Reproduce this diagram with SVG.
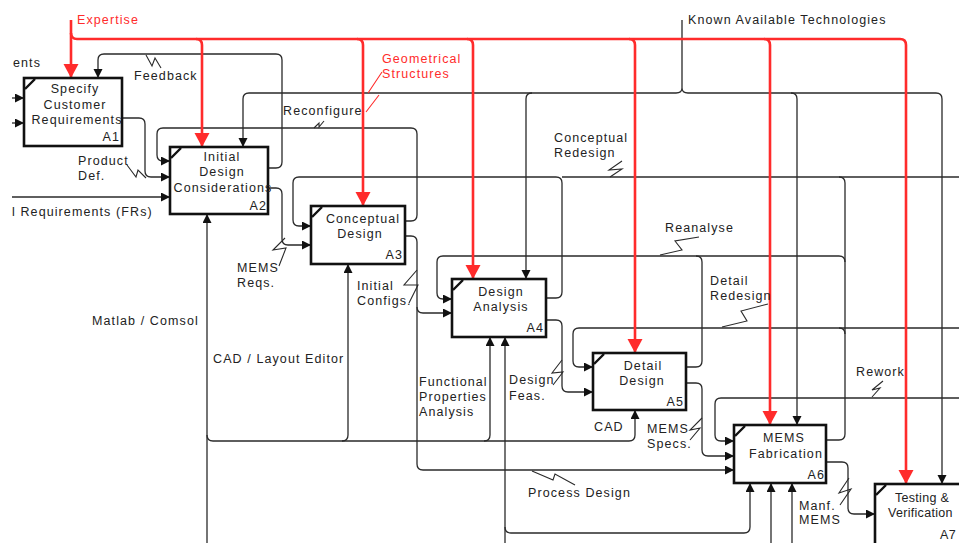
<svg xmlns="http://www.w3.org/2000/svg" width="959" height="543" viewBox="0 0 959 543">
<style>
.t{font-family:"Liberation Sans",Arial,sans-serif;font-size:12.5px;letter-spacing:1.1px;fill:#222}
.n{letter-spacing:0.3px}
.r{fill:#ff2b2b}
.m{text-anchor:middle}
.e{text-anchor:end}
.box{fill:#fff;stroke:#111;stroke-width:2.6}
.flag{stroke:#111;stroke-width:2.4;fill:none}
.c{fill:none;stroke:#2a2a2a;stroke-width:1.3}
.ca{fill:none;stroke:#2a2a2a;stroke-width:1.3;marker-end:url(#ab)}
.rl{fill:none;stroke:#ff2b2b;stroke-width:2.6}
.ra{fill:none;stroke:#ff2b2b;stroke-width:2.6;marker-end:url(#ar)}
.z{fill:none;stroke:#2a2a2a;stroke-width:1.1}
.rz{fill:none;stroke:#ff2b2b;stroke-width:1.1}
</style>
<defs>
<marker id="ab" markerUnits="userSpaceOnUse" markerWidth="10" markerHeight="10" refX="9" refY="4.5" orient="auto"><path d="M0,0 L9,4.5 L0,9 z" fill="#111"/></marker>
<marker id="ar" markerUnits="userSpaceOnUse" markerWidth="16" markerHeight="16" refX="14" refY="7.5" orient="auto"><path d="M0,0 L14,7.5 L0,15 z" fill="#ff2b2b"/></marker>
</defs>
<rect width="959" height="543" fill="#fff"/>

<g id="connectors">
<!-- Known Available Technologies -->
<path class="c" d="M682,20 V88 M676,93 Q682,93 682,88 Q682,93 688,93"/>
<path class="ca" d="M676,93 H249 Q243,93 243,99 V147"/>
<path class="ca" d="M688,93 H936 Q942,93 942,99 V484"/>
<path class="ca" d="M532,93 Q526,93 526,99 V279"/>
<path class="ca" d="M791,93 Q797,93 797,99 V425"/>
<!-- A1 inputs -->
<path class="ca" d="M12,98 H24"/>
<path class="ca" d="M12,123 H24"/>
<!-- Feedback -->
<path class="ca" d="M268,168 H276 Q282,168 282,162 V60 Q282,54 276,54 H104 Q98,54 98,60 V78"/>
<!-- Product Def -->
<path class="ca" d="M122,118 H139 Q145,118 145,124 V171 Q145,177 151,177 H170"/>
<!-- FRs -->
<path class="ca" d="M12,197 H170"/>
<!-- Reconfigure -->
<path class="ca" d="M405,221 H411 Q417,221 417,215 V134 Q417,128 411,128 H163 Q157,128 157,134 V155 Q157,161 163,161 H170"/>
<!-- MEMS Reqs -->
<path class="ca" d="M268,188 H276 Q282,188 282,194 V239 Q282,245 288,245 H311"/>
<!-- Conceptual Redesign -->
<path class="ca" d="M546,298 H556 Q562,298 562,292 V183 Q562,177 556,177 H299 Q293,177 293,183 V220 Q293,226 299,226 H311"/>
<path class="c" d="M959,177 H562"/>
<!-- A6 feedback riser -->
<path class="c" d="M826,440 H839 Q845,440 845,434 V183 Q845,177 839,177"/>
<path class="c" d="M845,262 Q845,256 839,256"/>
<path class="c" d="M845,334 Q845,328 839,328"/>
<!-- Reanalyse -->
<path class="ca" d="M839,256 H443 Q437,256 437,262 V293 Q437,299 443,299 H452"/>
<!-- Detail Redesign -->
<path class="ca" d="M959,328 H579 Q573,328 573,334 V361 Q573,367 579,367 H593"/>
<!-- A5 outputs -->
<path class="c" d="M686,367 H696 Q702,367 702,361 V262 Q702,256 696,256"/>
<path class="ca" d="M686,383 H696 Q702,383 702,389 V450 Q702,456 708,456 H734"/>
<!-- Rework -->
<path class="ca" d="M959,398 H721 Q715,398 715,404 V435 Q715,441 721,441 H734"/>
<!-- Initial Configs / Process Design -->
<path class="ca" d="M405,236 H411 Q417,236 417,242 V464 Q417,470 423,470 H734"/>
<path class="ca" d="M417,307 Q417,313 423,313 H452"/>
<!-- Design Feas -->
<path class="ca" d="M546,320 H556 Q562,320 562,326 V386 Q562,392 568,392 H593"/>
<!-- Manf MEMS -->
<path class="ca" d="M826,462 H842 Q848,462 848,468 V508 Q848,514 854,514 H875"/>
<!-- CAD / Layout Editor -->
<path class="ca" d="M207,543 V214"/>
<path class="ca" d="M207,435 Q207,441 213,441 H629 Q635,441 635,435 V410"/>
<path class="ca" d="M342,441 Q348,441 348,435 V264"/>
<path class="ca" d="M484,441 Q490,441 490,435 V337"/>
<!-- second A4 mechanism and A6 mechanisms -->
<path class="ca" d="M505,543 V337"/>
<path class="ca" d="M505,527 Q505,533 511,533 H744 Q750,533 750,527 V483"/>
<path class="ca" d="M771,543 V483"/>
<path class="ca" d="M792,543 V483"/>
<!-- lightning ticks -->
<polyline class="z" points="146,55 152,66 155,58 161,68"/>
<polyline class="z" points="314,128 319,123 319,127 324,121"/>
<polyline class="z" points="127,165 136,177 138,170 146,178"/>
<polyline class="z" points="285,238 273,250 286,248 279,266"/>
<polyline class="z" points="417,270 404,285 418,285 409,303"/>
<polyline class="z" points="622,161 609,170 622,169 610,177"/>
<polyline class="z" points="699,237 675,241 682,250 660,255"/>
<polyline class="z" points="768,304 741,311 747,321 722,327"/>
<polyline class="z" points="562,360 552,373 563,372 553,385"/>
<polyline class="z" points="702,418 690,430 700,428 690,440"/>
<polyline class="z" points="883,381 872,390 880,388 872,397"/>
<polyline class="z" points="849,478 839,493 851,489 840,505"/>
<polyline class="z" points="532,471 553,480 555,474 575,485"/>
<!-- Expertise (red) -->
<path class="ra" d="M71,20 V78"/>
<path class="ra" d="M71,33 Q71,39 77,39 H900 Q906,39 906,45 V484"/>
<path class="ra" d="M196,39 Q202,39 202,45 V147"/>
<path class="ra" d="M357,39 Q363,39 363,45 V206"/>
<path class="ra" d="M467,39 Q473,39 473,45 V279"/>
<path class="ra" d="M629,39 Q635,39 635,45 V353"/>
<path class="ra" d="M764,39 Q770,39 770,45 V425"/>
<path class="rz" d="M382,72 L368,93 M379,95 L366,112"/>
</g>

<g id="A1">
<rect class="box" x="24" y="78" width="98" height="68"/>
<path class="flag" d="M25,89 L35,79"/>
<text class="t m" x="75" y="93">Specify</text>
<text class="t m" x="75" y="109">Customer</text>
<text class="t m" x="77" y="124">Requirements</text>
<text class="t e" x="120" y="141">A1</text>
</g>
<g id="A2">
<rect class="box" x="170" y="147" width="98" height="67"/>
<path class="flag" d="M171,158 L181,148"/>
<text class="t m" x="222" y="161">Initial</text>
<text class="t m" x="222" y="176">Design</text>
<text class="t m" x="223" y="192">Considerations</text>
<text class="t e" x="267" y="210">A2</text>
</g>
<g id="A3">
<rect class="box" x="311" y="206" width="94" height="58"/>
<path class="flag" d="M312,217 L322,207"/>
<text class="t m" x="363" y="223">Conceptual</text>
<text class="t m" x="360" y="238">Design</text>
<text class="t e" x="403" y="259">A3</text>
</g>
<g id="A4">
<rect class="box" x="452" y="279" width="94" height="58"/>
<path class="flag" d="M453,290 L463,280"/>
<text class="t m" x="501" y="296">Design</text>
<text class="t m" x="501" y="311">Analysis</text>
<text class="t e" x="544" y="332">A4</text>
</g>
<g id="A5">
<rect class="box" x="593" y="353" width="93" height="57"/>
<path class="flag" d="M594,364 L604,354"/>
<text class="t m" x="643" y="370">Detail</text>
<text class="t m" x="642" y="385">Design</text>
<text class="t e" x="684" y="406">A5</text>
</g>
<g id="A6">
<rect class="box" x="734" y="425" width="92" height="58"/>
<path class="flag" d="M735,436 L745,426"/>
<text class="t m" x="784" y="442">MEMS</text>
<text class="t m" x="786" y="458">Fabrication</text>
<text class="t e" x="825" y="479">A6</text>
</g>
<g id="A7">
<rect class="box" x="875" y="484" width="100" height="70"/>
<path class="flag" d="M876,495 L886,485"/>
<text class="t n" x="895" y="502">Testing &amp;</text>
<text class="t n" x="888" y="517">Verification</text>
<text class="t n e" x="956" y="539">A7</text>
</g>

<g id="labels">
<text class="t r" x="77" y="24">Expertise</text>
<text class="t r" x="382" y="63">Geometrical</text>
<text class="t r" x="382" y="78">Structures</text>
<text class="t" x="688" y="24">Known Available Technologies</text>
<text class="t" x="13" y="67">ents</text>
<text class="t" x="134" y="80">Feedback</text>
<text class="t" x="283" y="115">Reconfigure</text>
<text class="t" x="78" y="165">Product</text>
<text class="t" x="78" y="180">Def.</text>
<text class="t" x="12" y="216">l Requirements (FRs)</text>
<text class="t" x="554" y="142">Conceptual</text>
<text class="t" x="554" y="157">Redesign</text>
<text class="t" x="665" y="232">Reanalyse</text>
<text class="t" x="237" y="272">MEMS</text>
<text class="t" x="237" y="287">Reqs.</text>
<text class="t" x="357" y="290">Initial</text>
<text class="t" x="357" y="305">Configs.</text>
<text class="t" x="710" y="285">Detail</text>
<text class="t" x="710" y="300">Redesign</text>
<text class="t" x="92" y="325">Matlab / Comsol</text>
<text class="t" x="213" y="363">CAD / Layout Editor</text>
<text class="t" x="856" y="376">Rework</text>
<text class="t" x="419" y="386">Functional</text>
<text class="t" x="419" y="401">Properties</text>
<text class="t" x="419" y="416">Analysis</text>
<text class="t" x="509" y="384">Design</text>
<text class="t" x="509" y="400">Feas.</text>
<text class="t" x="594" y="431">CAD</text>
<text class="t" x="647" y="433">MEMS</text>
<text class="t" x="647" y="448">Specs.</text>
<text class="t" x="528" y="497">Process Design</text>
<text class="t" x="799" y="510">Manf.</text>
<text class="t" x="799" y="524">MEMS</text>
</g>
</svg>
